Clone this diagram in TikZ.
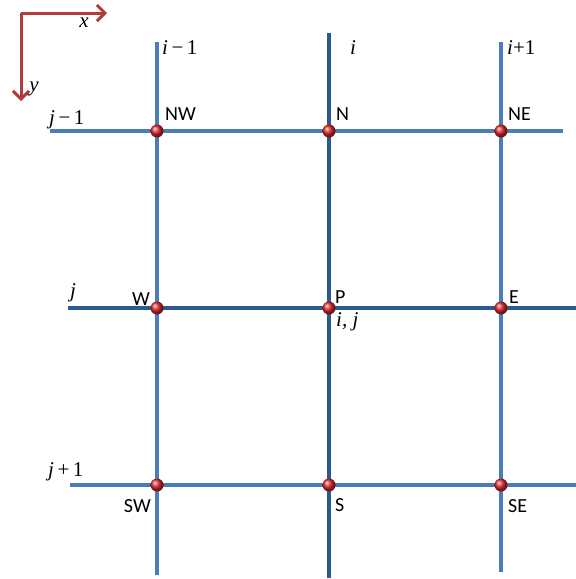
\documentclass[tikz,border=0pt]{standalone}
\usepackage{fontspec}
\setmainfont{Liberation Serif}
\newfontfamily\lblfont{Carlito}
\usetikzlibrary{arrows.meta}
\definecolor{gridblue}{HTML}{4A7EBB}
\definecolor{griddark}{HTML}{2B5A90}
\definecolor{axred}{HTML}{B23A3A}
\definecolor{dotred}{HTML}{E02828}
\begin{document}
\begin{tikzpicture}[x=1pt,y=-1pt,
  gline/.style={draw=gridblue,line width=3.6pt},
  gdark/.style={draw=griddark,line width=4.2pt},
  pt/.style={circle,inner sep=0pt,minimum size=13pt,ball color=dotred,draw=none},
  lbl/.style={font=\lblfont\fontsize{20}{20}\selectfont,inner sep=0pt},
  mlbl/.style={font=\fontsize{21}{21}\selectfont,inner sep=0pt},
  axis/.style={draw=axred,line width=3pt,-{Straight Barb[length=8pt,width=16pt,line width=3pt]}}]
\useasboundingbox (0,0) rectangle (576,579);
% grid end coordinates
\coordinate (c1t) at (157,42); \coordinate (c1b) at (157,575);
\coordinate (c2t) at (329,33); \coordinate (c2b) at (329,578);
\coordinate (c3t) at (501,42); \coordinate (c3b) at (501,572);
\coordinate (r1l) at (50,131); \coordinate (r1r) at (563,131);
\coordinate (r2l) at (68,308); \coordinate (r2r) at (576,308);
\coordinate (r3l) at (70,485); \coordinate (r3r) at (576,485);
\draw[gline] (c1t) -- (c1b);
\draw[gline] (c3t) -- (c3b);
\draw[gline] (r1l) -- (r1r);
\draw[gline] (r3l) -- (r3r);
\draw[gdark] (c2t) -- (c2b);
\draw[gdark] (r2l) -- (r2r);
% points
\node[pt] (NW) at (157,131) {};
\node[pt] (N) at (329,131) {};
\node[pt] (NE) at (501,131) {};
\node[pt] (W) at (157,308) {};
\node[pt] (P) at (329,308) {};
\node[pt] (E) at (501,308) {};
\node[pt] (SW) at (157,485) {};
\node[pt] (S) at (329,485) {};
\node[pt] (SE) at (501,485) {};
% axes
\coordinate (o) at (21,13);
\coordinate (xe) at (107,13);
\coordinate (ye) at (21,101);
\draw[axis] (o) -- (xe);
\draw[axis] (o) -- (ye);
\node[mlbl] (xl) at (84,23) {\textit{x}};
\node[mlbl] (yl) at (34,89) {\textit{y}};
% index labels
\node[mlbl,anchor=west] (im1) at (162,48) {\textit{i}\,−\,1};
\node[mlbl] (i0) at (353,48) {\textit{i}};
\node[mlbl,anchor=west] (ip1) at (507,48) {\textit{i}+1};
\node[mlbl,anchor=west] (jm1) at (49,120) {\textit{j}\,−\,1};
\node[mlbl] (j0) at (73,293) {\textit{j}};
\node[mlbl,anchor=west] (jp1) at (48,472) {\textit{j}\,+\,1};
\node[mlbl,anchor=west] (ij) at (336,322) {\textit{i, j}};
% point labels
\node[lbl,anchor=west] at (165,114) {NW};
\node[lbl,anchor=west] at (336,114) {N};
\node[lbl,anchor=west] at (508,114) {NE};
\node[lbl,anchor=east] at (150,299) {W};
\node[lbl,anchor=west] at (335,297) {P};
\node[lbl,anchor=west] at (509,297) {E};
\node[lbl,anchor=east] at (151,506) {SW};
\node[lbl,anchor=west] at (335,505) {S};
\node[lbl,anchor=west] at (508,506) {SE};
\end{tikzpicture}
\end{document}
